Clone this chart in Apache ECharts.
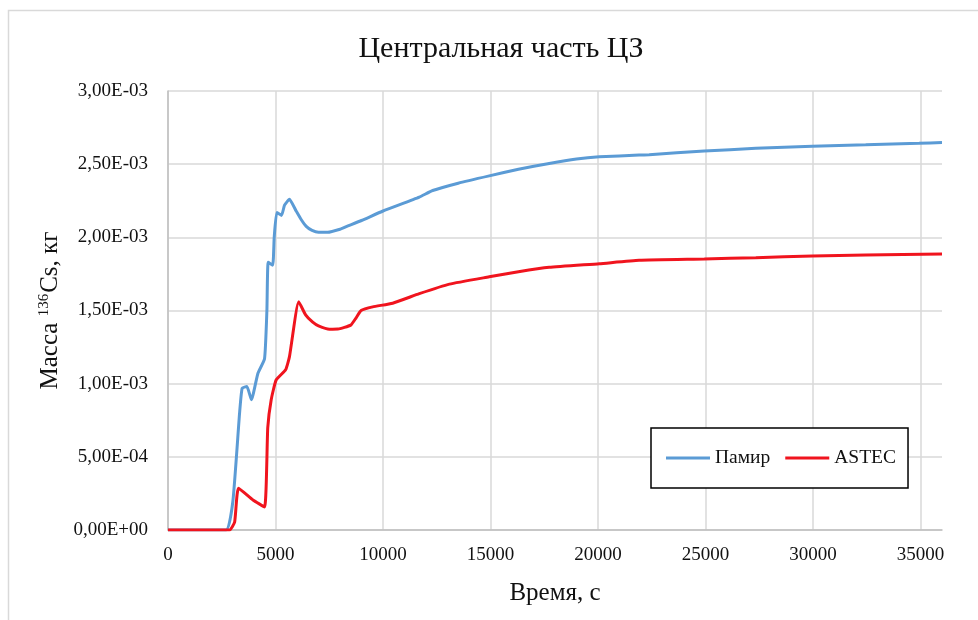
<!DOCTYPE html>
<html>
<head>
<meta charset="utf-8">
<script src="https://cdn.jsdelivr.net/npm/echarts@6/dist/echarts.min.js"></script>
<style>
html,body{margin:0;padding:0;background:#fff;}
#c{width:978px;height:620px;}
</style>
</head>
<body>
<div id="c"></div>
<script>
// Data (time in s, mass in kg)
const timePamir = [0, 2700, 3020, 3330, 3450, 3670, 3880, 4180, 4490, 4600, 4660, 4870, 4940, 5060, 5280, 5420, 5650, 5960, 6200, 6430, 6700, 7000, 7430, 8000, 8290, 9000, 10000, 11690, 12310, 13500, 14940, 16300, 17730, 19000, 20060, 21910, 22380, 24940, 27340, 29970, 32450, 34930, 36000];
const massPamir = [0, 0, 0.20e-3, 0.80e-3, 0.97e-3, 0.98e-3, 0.89e-3, 1.07e-3, 1.17e-3, 1.50e-3, 1.83e-3, 1.81e-3, 2.00e-3, 2.17e-3, 2.15e-3, 2.22e-3, 2.26e-3, 2.18e-3, 2.12e-3, 2.075e-3, 2.047e-3, 2.034e-3, 2.034e-3, 2.055e-3, 2.073e-3, 2.115e-3, 2.18e-3, 2.275e-3, 2.32e-3, 2.37e-3, 2.42e-3, 2.465e-3, 2.505e-3, 2.535e-3, 2.55e-3, 2.562e-3, 2.565e-3, 2.59e-3, 2.608e-3, 2.622e-3, 2.632e-3, 2.643e-3, 2.648e-3];
const timeAstec = [0, 2860, 3100, 3280, 3950, 4490, 4640, 4800, 5030, 5470, 5650, 6080, 6400, 6730, 7000, 7510, 7900, 8500, 8750, 8980, 9520, 10450, 11690, 13090, 14940, 16300, 17730, 20060, 21910, 24940, 27340, 29970, 32450, 36000];
const massAstec = [0, 0, 0.055e-3, 0.285e-3, 0.205e-3, 0.158e-3, 0.70e-3, 0.89e-3, 1.025e-3, 1.095e-3, 1.185e-3, 1.56e-3, 1.47e-3, 1.42e-3, 1.395e-3, 1.372e-3, 1.373e-3, 1.40e-3, 1.45e-3, 1.50e-3, 1.525e-3, 1.55e-3, 1.615e-3, 1.68e-3, 1.73e-3, 1.765e-3, 1.795e-3, 1.82e-3, 1.843e-3, 1.852e-3, 1.861e-3, 1.872e-3, 1.88e-3, 1.886e-3];
const seriesNames = ['Памир', 'ASTEC'];

const zip = (xs, ys) => xs.map((x, i) => [x, ys[i]]);
const fmtY = v => {
  let s = Number(v).toExponential(2);
  let [m, e] = s.split('e');
  let sign = e[0] === '-' ? '-' : '+';
  let ex = e.replace(/[+-]/, '');
  if (ex.length < 2) ex = '0' + ex;
  return m.replace('.', ',') + 'E' + sign + ex;
};
const serif = '"Liberation Serif", "DejaVu Serif", serif';
const chart = echarts.init(document.getElementById('c'));
chart.setOption({
  backgroundColor: '#fff',
  animation: false,
  graphic: [{type: 'rect', shape: {x: 8.5, y: 10.5, width: 990, height: 640}, style: {fill: 'none', stroke: '#d9d9d9', lineWidth: 1.5}, silent: true}],
  title: {
    text: 'Центральная часть ЦЗ',
    left: 496, top: 29, textAlign: 'center',
    textStyle: {fontFamily: serif, fontSize: 30, fontWeight: 'normal', color: '#111'}
  },
  grid: {left: 168, right: 36, top: 91, bottom: 90, containLabel: false},
  legend: {
    data: seriesNames,
    left: 651, top: 428,
    orient: 'horizontal',
    icon: 'rect', itemWidth: 44, itemHeight: 3, itemGap: 15,
    padding: [20, 12, 20, 15],
    borderColor: '#000', borderWidth: 1.5, backgroundColor: '#fff',
    textStyle: {fontFamily: serif, fontSize: 19.5, color: '#111'}
  },
  xAxis: {
    type: 'value', min: 0, max: 36000, interval: 5000,
    name: 'Время, с', nameLocation: 'middle', nameGap: 51,
    nameTextStyle: {fontFamily: serif, fontSize: 25, color: '#111'},
    axisLine: {show: true, lineStyle: {color: '#bfbfbf', width: 1.5}},
    axisTick: {show: false},
    axisLabel: {fontFamily: serif, fontSize: 19, color: '#111', margin: 16, showMaxLabel: false,
      formatter: v => (v % 5000 === 0 ? String(v) : '')},
    splitLine: {show: true, lineStyle: {color: ['#d9d9d9','#d9d9d9','#d9d9d9','#d9d9d9','#d9d9d9','#d9d9d9','#d9d9d9','#d9d9d9','rgba(0,0,0,0)'], width: 1.5}}
  },
  yAxis: {
    type: 'value', min: 0, max: 0.003, interval: 0.0005,
    name: '{a|Масса }{s|136}{a|Cs, кг}', nameLocation: 'middle', nameGap: 101, nameRotate: 90,
    nameTextStyle: {rich: {
      a: {fontFamily: serif, fontSize: 25, color: '#111'},
      s: {fontFamily: serif, fontSize: 15, color: '#111', verticalAlign: 'top', padding: [0, 1, 11, 0]}
    }},
    axisLine: {show: true, lineStyle: {color: '#bfbfbf', width: 1.5}},
    axisTick: {show: false},
    axisLabel: {fontFamily: serif, fontSize: 19, color: '#111', margin: 20, formatter: fmtY},
    splitLine: {show: true, lineStyle: {color: '#d9d9d9', width: 1.5}}
  },
  series: [
    {name: seriesNames[0], type: 'line', data: zip(timePamir, massPamir), symbol: 'none', smooth: 0.15,
      lineStyle: {color: '#5B9BD5', width: 3}, itemStyle: {color: '#5B9BD5'}},
    {name: seriesNames[1], type: 'line', data: zip(timeAstec, massAstec), symbol: 'none', smooth: 0.15,
      lineStyle: {color: '#F0141E', width: 3}, itemStyle: {color: '#F0141E'}}
  ]
});
</script>
</body>
</html>
